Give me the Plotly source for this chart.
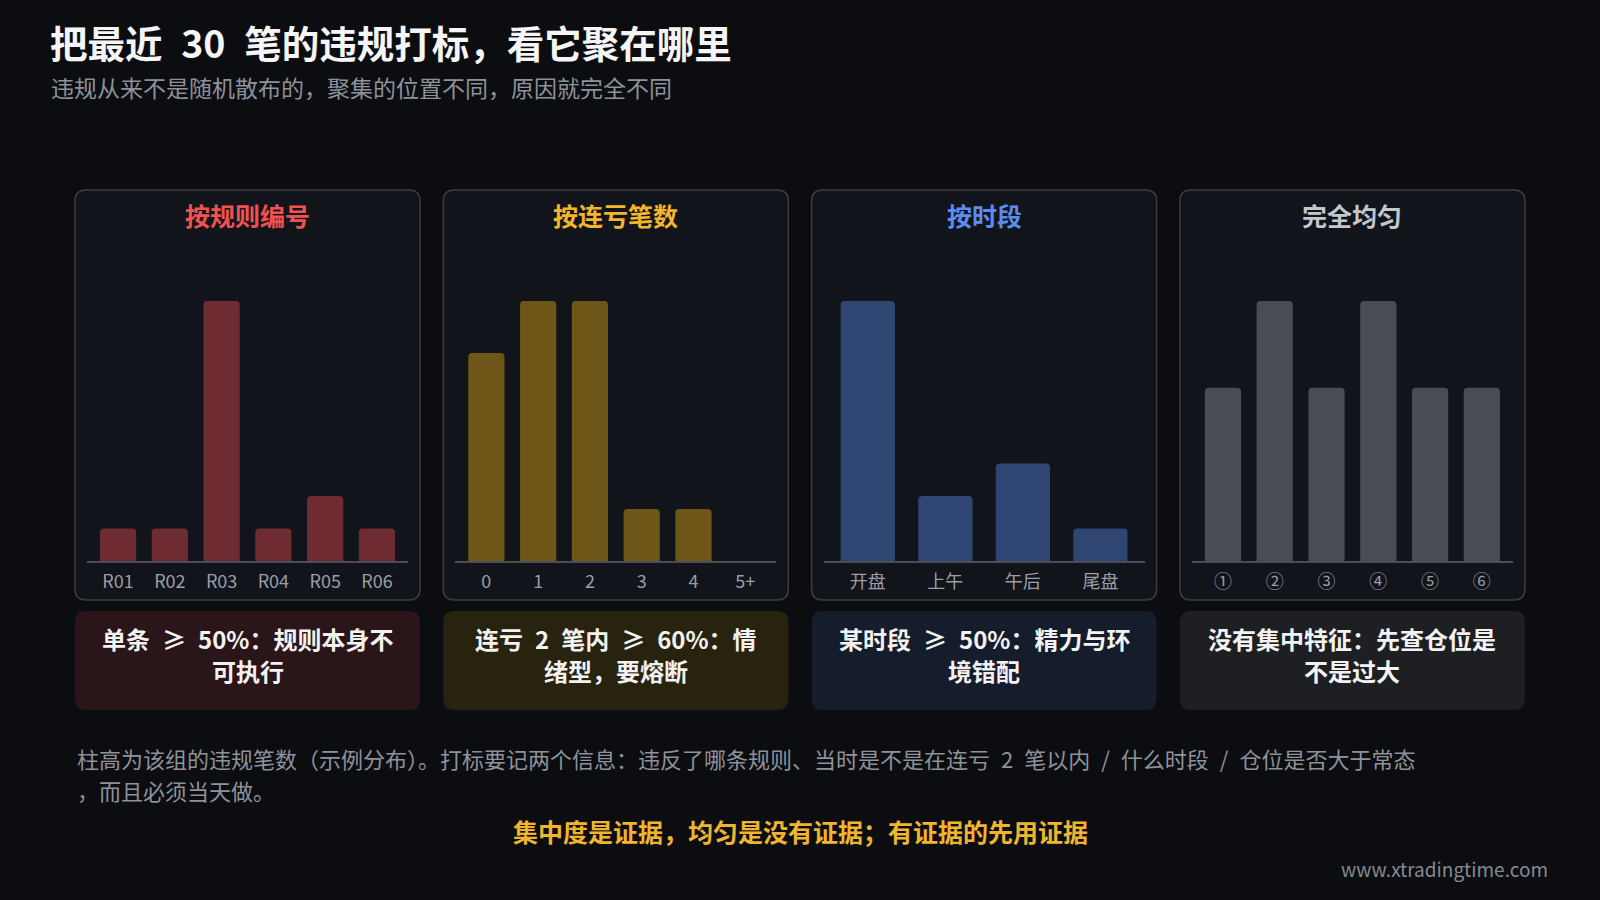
import plotly.graph_objects as go

# ---------------- data ----------------
title_text = "把最近\u200230\u2002笔的违规打标，看它聚在哪里"
subtitle_text = "违规从来不是随机散布的，聚集的位置不同，原因就完全不同"

panel_titles = ["按规则编号", "按连亏笔数", "按时段", "完全均匀"]

rule_cats = ["R01", "R02", "R03", "R04", "R05", "R06"]
rule_vals = [1, 1, 8, 1, 2, 1]

streak_cats = ["0", "1", "2", "3", "4", "5+"]
streak_vals = [4, 5, 5, 1, 1, 0]

time_cats = ["开盘", "上午", "午后", "尾盘"]
time_vals = [8, 2, 3, 1]

even_cats = ["①", "②", "③", "④", "⑤", "⑥"]
even_vals = [2, 3, 2, 3, 2, 2]

captions = [
    "单条\u2002≥\u200250%：规则本身不<br>可执行",
    "连亏\u20022\u2002笔内\u2002≥\u200260%：情<br>绪型，要熔断",
    "某时段\u2002≥\u200250%：精力与环<br>境错配",
    "没有集中特征：先查仓位是<br>不是过大",
]

footnote_lines = [
    "柱高为该组的违规笔数（示例分布）。打标要记两个信息：违反了哪条规则、当时是不是在连亏\u20022\u2002笔以内\u2002/\u2002什么时段\u2002/\u2002仓位是否大于常态",
    "，而且必须当天做。",
]
conclusion_text = "集中度是证据，均匀是没有证据；有证据的先用证据"
watermark_text = "www.xtradingtime.com"

# ---------------- styles ----------------
W, H = 1600, 900
FONT = "Noto Sans CJK SC"
PAGE_BG = "#0c0d11"
PANEL_BG = "#11141a"
PANEL_BORDER = "#3a3d45"
AXIS_COLOR = "#4a4d55"
TICK_COLOR = "#9a9ea6"

bar_colors = ["#6e2b31", "#6d5617", "#2f4673", "#4a4c53"]
title_colors = ["#f0524f", "#f2b52c", "#5a8def", "#c3c6cc"]
caption_bgs = ["#2a1619", "#28230f", "#151c2c", "#1e1f23"]
pads = [0.6, 0.6, 0.57, 0.6]

cats_list = [rule_cats, streak_cats, time_cats, even_cats]
vals_list = [rule_vals, streak_vals, time_vals, even_vals]


def px(x):
    return x / W


def py(y):
    return 1 - y / H


def rrect(x0, y0, x1, y1, r):
    pts = [
        ("M", [(x0 + r, y0)]),
        ("L", [(x1 - r, y0)]),
        ("Q", [(x1, y0), (x1, y0 + r)]),
        ("L", [(x1, y1 - r)]),
        ("Q", [(x1, y1), (x1 - r, y1)]),
        ("L", [(x0 + r, y1)]),
        ("Q", [(x0, y1), (x0, y1 - r)]),
        ("L", [(x0, y0 + r)]),
        ("Q", [(x0, y0), (x0 + r, y0)]),
    ]
    s = ""
    for cmd, ps in pts:
        s += cmd + " ".join(f"{px(a):.5f},{py(b):.5f}" for a, b in ps) + " "
    return s + "Z"


fig = go.Figure()
shapes = []
annotations = []

BOX_W = 345
for i in range(4):
    bx0 = 75 + i * 368.3
    bx1 = bx0 + BOX_W
    shapes.append(dict(type="path", path=rrect(bx0, 190, bx1, 600, 11),
                       xref="paper", yref="paper", fillcolor=PANEL_BG,
                       line=dict(color=PANEL_BORDER, width=1.5), layer="below"))
    shapes.append(dict(type="path", path=rrect(bx0, 611, bx1, 710, 11),
                       xref="paper", yref="paper", fillcolor=caption_bgs[i],
                       line=dict(width=0), layer="below"))
    n = i + 1
    xa = "x" if n == 1 else f"x{n}"
    ya = "y" if n == 1 else f"y{n}"
    fig.add_trace(go.Bar(
        x=cats_list[i], y=vals_list[i], xaxis=xa, yaxis=ya,
        marker=dict(color=bar_colors[i], line=dict(width=0), cornerradius=4),
        width=0.7, hoverinfo="x+y", showlegend=False,
    ))
    ncat = len(cats_list[i])
    key_x = "xaxis" if n == 1 else f"xaxis{n}"
    key_y = "yaxis" if n == 1 else f"yaxis{n}"
    fig.update_layout({
        key_x: dict(domain=[px(bx0 + 12), px(bx1 - 12)], anchor=ya,
                    type="category", range=[-pads[i], ncat - 1 + pads[i]],
                    showline=True, linecolor=AXIS_COLOR, linewidth=1.5,
                    showgrid=False, zeroline=False, ticks="",
                    ticklabelstandoff=4,
                    tickfont=dict(family=FONT, size=18, color=TICK_COLOR),
                    fixedrange=True),
        key_y: dict(domain=[py(561), py(301)], anchor=xa,
                    range=[0, max(vals_list[i])], visible=False,
                    showgrid=False, zeroline=False, fixedrange=True),
    })
    cx = (bx0 + bx1) / 2
    annotations.append(dict(text=f"<b>{panel_titles[i]}</b>", x=px(cx), y=py(215),
                            xref="paper", yref="paper", xanchor="center", yanchor="middle",
                            showarrow=False,
                            font=dict(family=FONT, size=25, color=title_colors[i])))
    for j, line in enumerate(captions[i].split("<br>")):
        annotations.append(dict(text=f"<b>{line}</b>", x=px(cx), y=py(638 + 32 * j),
                                xref="paper", yref="paper", xanchor="center", yanchor="middle",
                                showarrow=False,
                                font=dict(family=FONT, size=24, color="#f2f2f2")))

annotations.append(dict(text=f"<b>{title_text}</b>", x=px(48), y=py(42),
                        xref="paper", yref="paper", xanchor="left", yanchor="middle",
                        showarrow=False, font=dict(family=FONT, size=37.5, color="#f5f5f5")))
annotations.append(dict(text=subtitle_text, x=px(49), y=py(87),
                        xref="paper", yref="paper", xanchor="left", yanchor="middle",
                        showarrow=False, font=dict(family=FONT, size=23, color="#8e929a")))
for j, line in enumerate(footnote_lines):
    annotations.append(dict(text=line, x=px(75), y=py(758 + 32 * j),
                            xref="paper", yref="paper", xanchor="left", yanchor="middle",
                            showarrow=False, font=dict(family=FONT, size=22, color="#8e929a")))
annotations.append(dict(text=f"<b>{conclusion_text}</b>", x=px(800), y=py(831),
                        xref="paper", yref="paper", xanchor="center", yanchor="middle",
                        showarrow=False, font=dict(family=FONT, size=25, color="#f0b52e")))
annotations.append(dict(text=watermark_text, x=px(1550), y=py(868),
                        xref="paper", yref="paper", xanchor="right", yanchor="middle",
                        showarrow=False, font=dict(family=FONT, size=19, color="#858991")))

fig.update_layout(
    width=W, height=H, margin=dict(l=0, r=0, t=0, b=0),
    paper_bgcolor=PAGE_BG, plot_bgcolor="rgba(0,0,0,0)",
    shapes=shapes, annotations=annotations, showlegend=False,
    bargap=0.3,
)

fig.write_html("out.html", config={"displayModeBar": False},
               post_script="document.body.style.margin='0';document.body.style.overflow='hidden';")
